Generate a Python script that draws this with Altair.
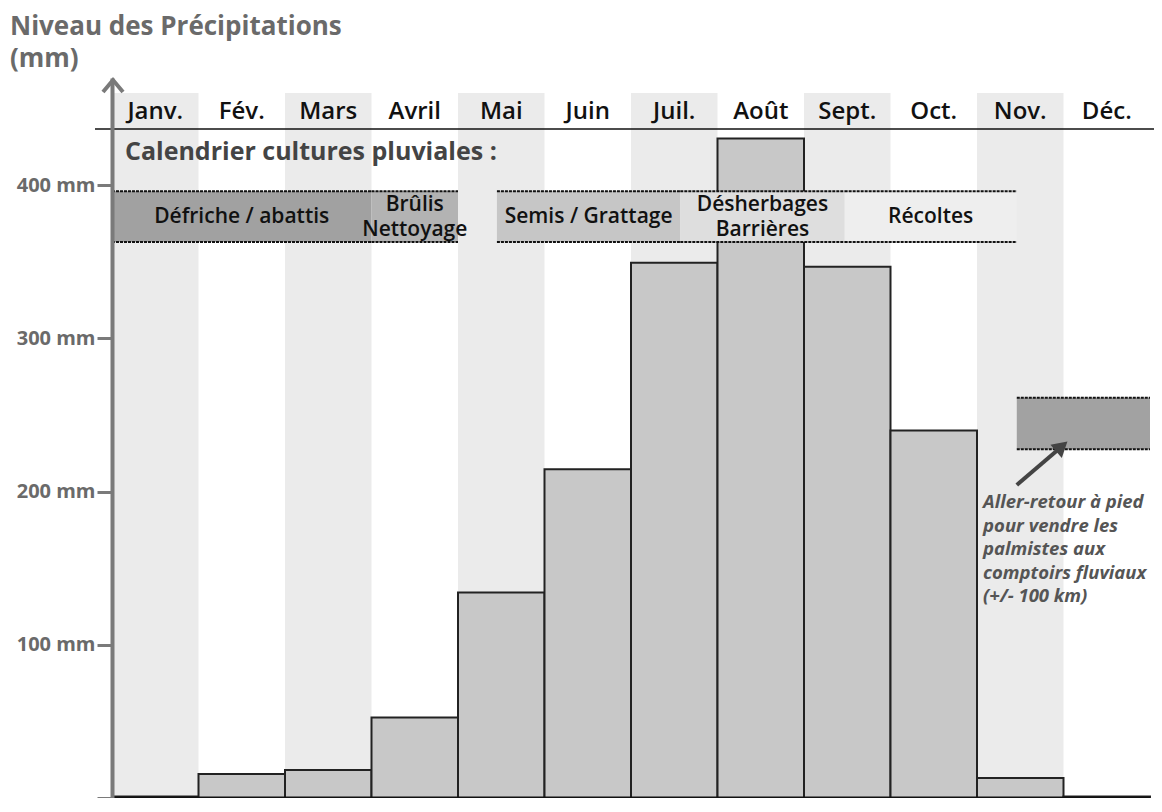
import altair as alt
import pandas as pd

# ---------------- data ----------------
months = ["Janv.", "Fév.", "Mars", "Avril", "Mai", "Juin", "Juil.", "Août",
          "Sept.", "Oct.", "Nov.", "Déc."]
rain = [1, 15.6, 18.2, 52.5, 134.2, 214.6, 349.4, 430.5, 346.8, 239.9, 13, 1]
stripe_months = [0, 2, 4, 6, 8, 10]

band_labels = ["Défriche / abattis", "Brûlis\nNettoyage", "Semis / Grattage",
               "Désherbages\nBarrières", "Récoltes"]
band_start = [0, 3, 4.45, 6.57, 8.47]
band_end = [3, 4, 6.57, 8.47, 10.46]
band_colors = ["#a1a1a1", "#b3b3b3", "#c6c6c6", "#dedede", "#eeeeee"]
band_low, band_high = 363, 396

palm_start, palm_end = 10.46, 12
palm_low, palm_high = 227.6, 261.3

note_text = "Aller-retour à pied\npour vendre  les\npalmistes aux\ncomptoirs fluviaux\n(+/- 100 km)"
note_x, note_y = 10.07, 189.3
arrow_x, arrow_y = 10.46, 204.3
arrow_x2, arrow_y2 = 10.98, 229.5

y_ticks = [0, 100, 200, 300, 400]

# ---------------- layout ----------------
W, H, D = 1038, 720, 470
FONT = "Open Sans"

xs = alt.Scale(domain=[0, 12], nice=False, zero=False)
ys = alt.Scale(domain=[0, D], nice=False, zero=True)
yaxis = alt.Axis(values=y_ticks, title=None, grid=False,
                 labelExpr="datum.value == 0 ? '' : datum.value + ' mm'",
                 labelFont=FONT, labelFontSize=20, labelFontWeight="bold",
                 labelColor="#6a6a6a", domainColor="#7a7a7a", domainWidth=4,
                 tickColor="#7a7a7a", tickWidth=3, tickSize=15, labelPadding=2,
                 zindex=1)


def X(f):
    return alt.X(f, type="quantitative", scale=xs, axis=None)


def Y(f):
    return alt.Y(f, type="quantitative", scale=ys, axis=yaxis)


df_m = pd.DataFrame({"month": months, "rain": rain,
                     "x": list(range(12)), "x2": [i + 1 for i in range(12)],
                     "xc": [i + 0.5 for i in range(12)], "zero": [0] * 12})
df_s = pd.DataFrame({"x": stripe_months, "x2": [m + 1 for m in stripe_months]})
df_b = pd.DataFrame({"label": band_labels, "x": band_start, "x2": band_end,
                     "color": band_colors, "lo": band_low, "hi": band_high,
                     "xc": [(a + b) / 2 for a, b in zip(band_start, band_end)],
                     "yc": (band_low + band_high) / 2})
df_b1 = df_b[~df_b["label"].str.contains("\n")]
df_b2 = df_b[df_b["label"].str.contains("\n")]
df_p = pd.DataFrame({"x": [palm_start], "x2": [palm_end],
                     "lo": [palm_low], "hi": [palm_high]})
df_border = pd.DataFrame({
    "x": band_start + band_start + [palm_start, palm_start],
    "x2": band_end + band_end + [palm_end, palm_end],
    "y": [band_high] * 5 + [band_low] * 5 + [palm_high, palm_low],
})
df_base = pd.DataFrame({"x": [0], "x2": [12], "y": [0]})
df_arrow = pd.DataFrame({"x": [arrow_x], "y": [arrow_y], "x2": [arrow_x2], "y2": [arrow_y2]})
df_note = pd.DataFrame({"x": [note_x], "y": [note_y], "t": [note_text]})

stripes = alt.Chart(df_s).mark_rect(color="#ebebeb").encode(
    x=X("x"), x2="x2", y=alt.value(15), y2=alt.value(H))

bars = alt.Chart(df_m).mark_rect(fill="#c8c8c8", stroke="#222", strokeWidth=2).encode(
    x=X("x"), x2="x2", y=Y("rain"), y2="zero")

base = alt.Chart(df_base).mark_rule(color="#111", strokeWidth=3).encode(
    x=X("x"), x2="x2", y=Y("y"))

bands = alt.Chart(df_b).mark_rect().encode(
    x=X("x"), x2="x2", y=Y("lo"), y2="hi",
    color=alt.Color("color:N", scale=None))

palm = alt.Chart(df_p).mark_rect(color="#a2a2a2").encode(
    x=X("x"), x2="x2", y=Y("lo"), y2="hi")

borders = alt.Chart(df_border).mark_rule(color="#111", strokeWidth=2,
                                         strokeDash=[3, 1]).encode(
    x=X("x"), x2="x2", y=Y("y"))

band_text1 = alt.Chart(df_b1).mark_text(font=FONT, fontSize=21, fontWeight=600,
                                        color="#111", baseline="middle").encode(
    x=X("xc"), y=Y("yc"), text="label")
band_text2 = alt.Chart(df_b2).mark_text(font=FONT, fontSize=21, fontWeight=600,
                                        color="#111", lineBreak="\n",
                                        lineHeight=25, baseline="middle",
                                        dy=-12).encode(
    x=X("xc"), y=Y("yc"), text="label")

month_text = alt.Chart(df_m).mark_text(font=FONT, fontSize=24, fontWeight=600,
                                       color="#111", baseline="alphabetic").encode(
    x=X("xc"), y=alt.value(41), text="month")

hline = alt.Chart(df_base).mark_rule(color="#111", strokeWidth=1.6).encode(
    x=alt.value(-17), x2=alt.value(W + 4), y=alt.value(51))

cal_title = alt.Chart(df_base).mark_text(font=FONT, fontSize=25, fontWeight="bold",
                                         color="#444", align="left",
                                         baseline="alphabetic").encode(
    x=alt.value(13), y=alt.value(82), text=alt.datum("Calendrier cultures pluviales :"))

axis_arrow = alt.Chart(df_base).mark_point(
    shape="M-1,1.2L0,0L1,1.2", filled=False, stroke="#7a7a7a",
    strokeWidth=4, size=400, opacity=1).encode(
    x=alt.value(1), y=alt.value(2))

title1 = alt.Chart(df_base).mark_text(font=FONT, fontSize=26, fontWeight="bold",
                                      color="#6a6a6a", align="left",
                                      baseline="alphabetic").encode(
    x=alt.value(-102), y=alt.value(-43), text=alt.datum("Niveau des Précipitations"))
title2 = alt.Chart(df_base).mark_text(font=FONT, fontSize=26, fontWeight="bold",
                                      color="#6a6a6a", align="left",
                                      baseline="alphabetic").encode(
    x=alt.value(-102), y=alt.value(-11), text=alt.datum("(mm)"))

arrow_line = alt.Chart(df_arrow).mark_rule(color="#444", strokeWidth=4).encode(
    x=X("x"), x2="x2", y=Y("y"), y2="y2")
arrow_head = alt.Chart(df_arrow).mark_point(shape="triangle-up", filled=True,
                                            color="#444", size=300, angle=49,
                                            opacity=1).encode(
    x=X("x2"), y=Y("y2"))

note = alt.Chart(df_note).mark_text(font=FONT, fontSize=18.5, fontWeight="bold",
                                    fontStyle="italic", color="#555",
                                    align="left", baseline="alphabetic",
                                    lineBreak="\n", lineHeight=23.5).encode(
    x=X("x"), y=Y("y"), text="t")

chart = alt.layer(stripes, bars, base, bands, palm, borders, band_text1,
                  band_text2, month_text, hline, cal_title, axis_arrow,
                  title1, title2, arrow_line, arrow_head, note).properties(
    width=W, height=H,
    autosize=alt.AutoSizeParams(type="none"),
    padding={"left": 104, "top": 70, "right": 4, "bottom": 0},
).configure(background="white").configure_view(stroke=None)

chart.save("out.html", embed_options={"renderer": "svg", "actions": False})
